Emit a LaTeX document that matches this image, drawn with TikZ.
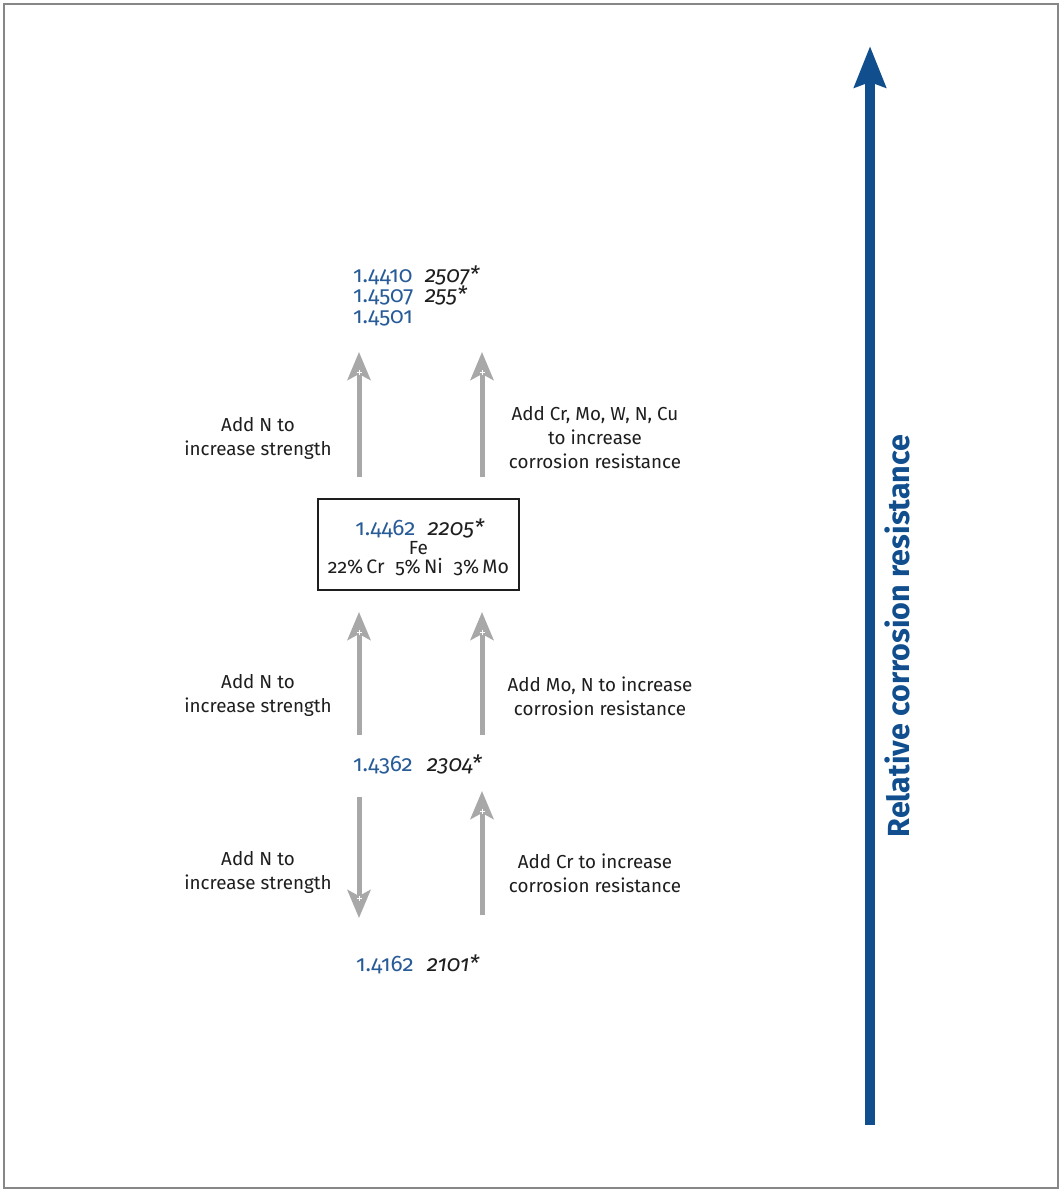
\documentclass[tikz,border=0pt]{standalone}
\usepackage{fontspec}
\setmainfont{Fira Sans}[Numbers=OldStyle]
\usetikzlibrary{arrows.meta}
\definecolor{numblue}{RGB}{40,92,152}
\definecolor{bigblue}{RGB}{16,78,142}
\definecolor{arrgray}{RGB}{168,168,168}
\definecolor{framegray}{RGB}{135,135,135}
\definecolor{txt}{RGB}{30,30,30}
\newcommand{\gnum}[1]{\textcolor{numblue}{#1}}
\newcommand{\grade}[1]{\textit{#1}}
\tikzset{
  lbl/.style={align=center, text=txt, inner sep=0pt, font=\fontsize{18.8}{24}\selectfont},
  num/.style={anchor=base west, inner sep=0pt, text=txt, font=\fontsize{22.5}{20}\selectfont},
  garrow/.style={draw=arrgray, line width=5pt, -{Stealth[length=28pt,width=23pt,inset=6pt]}},
  plusmark/.style={draw=white, line width=0.9pt},
}
\begin{document}
\begin{tikzpicture}[x=1pt,y=-1pt]
\useasboundingbox (0,0) rectangle (1063,1192);
\fill[white] (0,0) rectangle (1063,1192);
\draw[framegray, line width=2pt] (4,4) rectangle (1058,1188);

% big blue arrow
\coordinate (bigS) at (870,1125);
\coordinate (bigE) at (870,46);
\draw[bigblue, line width=10pt, -{Stealth[length=41pt,width=31pt,inset=5pt]}] (bigS) -- (bigE);
\node[rotate=90, text=bigblue, inner sep=0pt, font=\fontsize{30.5}{32}\selectfont\bfseries] (rel) at (897,636) {Relative corrosion resistance};

% top grades
\node[num] (t1a) at (353,282) {\gnum{1.4410}};
\node[num] (t1b) at (425,282) {\grade{2507*}};
\node[num] (t2a) at (353,302.5) {\gnum{1.4507}};
\node[num] (t2b) at (425,302.5) {\grade{255*}};
\node[num] (t3a) at (353,323) {\gnum{1.4501}};

% box
\node[draw=txt, line width=1.2pt, minimum width=201pt, minimum height=91pt, inner sep=0pt] (box) at (418.5,544.5) {};
\node[num, anchor=base] (b1) at (420,535) {\gnum{1.4462}\hspace{0.55em}\grade{2205*}};
\node[num, anchor=base, font=\fontsize{19}{20}\selectfont] (b2) at (418.5,554) {Fe};
\node[num, anchor=base, font=\fontsize{19.5}{20}\selectfont] (b3) at (418.5,573) {22\%\,Cr\hspace{0.55em}5\%\,Ni\hspace{0.55em}3\%\,Mo};

% middle grade
\node[num] (m1a) at (353,771) {\gnum{1.4362}};
\node[num] (m1b) at (427,771) {\grade{2304*}};
% bottom grade
\node[num] (l1a) at (356,971) {\gnum{1.4162}};
\node[num] (l1b) at (427,971) {\grade{2101*}};

% arrows coordinates
\coordinate (a1s) at (359,477); \coordinate (a1e) at (359,352);
\coordinate (a2s) at (482,477); \coordinate (a2e) at (482,352);
\coordinate (a3s) at (359,735); \coordinate (a3e) at (359,612);
\coordinate (a4s) at (482,735); \coordinate (a4e) at (482,612);
\coordinate (a5s) at (359,797); \coordinate (a5e) at (359,918);
\coordinate (a6s) at (482,915); \coordinate (a6e) at (482,791);
\foreach \a in {1,...,6}{\draw[garrow] (a\a s) -- (a\a e);}
% white plus marks in arrowheads
\foreach \x/\y in {359/372,482/372,359/632,482/632,482/811,359/898}{
  \draw[plusmark] (\x-2.5,\y) -- (\x+2.5,\y) (\x,\y-2.5) -- (\x,\y+2.5);
}

% labels
\node[lbl] (L1) at (258,438) {Add N to\\increase strength};
\node[lbl] (R1) at (595,438) {Add Cr, Mo, W, N, Cu\\to increase\\corrosion resistance};
\node[lbl] (L2) at (258,695) {Add N to\\increase strength};
\node[lbl] (R2) at (600,696) {Add Mo, N to increase\\corrosion resistance};
\node[lbl] (L3) at (258,872) {Add N to\\increase strength};
\node[lbl] (R3) at (595,873) {Add Cr to increase\\corrosion resistance};
\end{tikzpicture}
\end{document}
